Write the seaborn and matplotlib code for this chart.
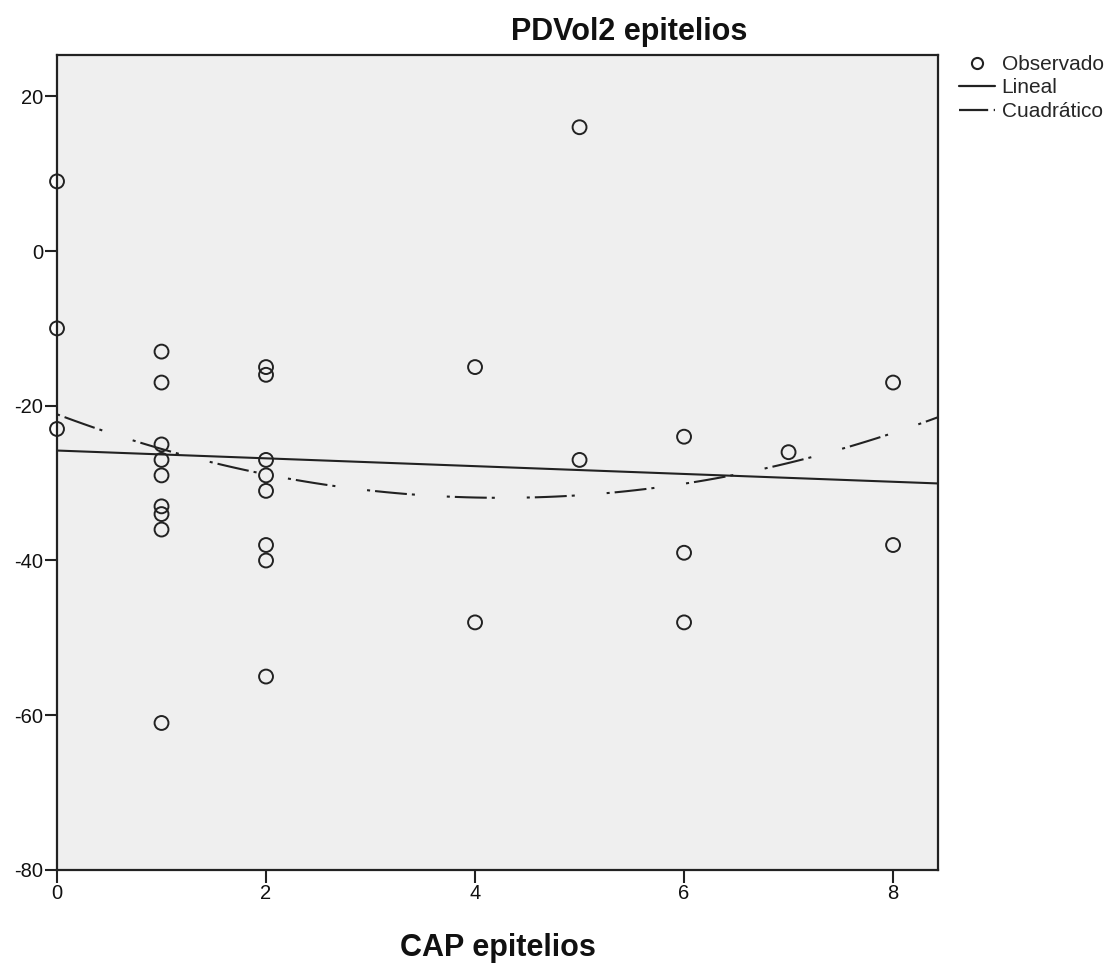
import matplotlib
matplotlib.use("Agg")
import matplotlib.pyplot as plt
from matplotlib.lines import Line2D
import seaborn as sns
import pandas as pd
import numpy as np

cap = [0, 0, 0,
       1, 1, 1, 1, 1, 1, 1, 1, 1,
       2, 2, 2, 2, 2, 2, 2, 2,
       4, 4,
       5, 5,
       6, 6, 6,
       7,
       8, 8]
pdvol = [9, -10, -23,
         -13, -17, -25, -27, -29, -33, -34, -36, -61,
         -15, -16, -27, -29, -31, -38, -40, -55,
         -15, -48,
         16, -27,
         -24, -39, -48,
         -26,
         -17, -38]
x_ticks = [0, 2, 4, 6, 8]
y_ticks = [20, 0, -20, -40, -60, -80]

df = pd.DataFrame({"CAP epitelios": cap, "PDVol2 epitelios": pdvol})

sns.set_style("white")
plt.rcParams['font.family'] = ['Liberation Sans', 'DejaVu Sans']
plt.rcParams['axes.unicode_minus'] = False
plt.rcParams['lines.scale_dashes'] = False

quad_style = (0, (2.2, 3.6, 23, 3.6, 2.2, 23))

fig = plt.figure(figsize=(11.18, 9.63), dpi=100)
ax = fig.add_axes([0.051, 0.0966, 0.788, 0.846])
ax.set_facecolor('#efefef')
ax.set_xlim(0, 8.43)
ax.set_ylim(-80, 25.3)

sns.scatterplot(data=df, x="CAP epitelios", y="PDVol2 epitelios", ax=ax,
                marker='o', s=100, facecolor='none', edgecolor='#222222',
                linewidth=1.4, zorder=3, clip_on=False)
sns.regplot(data=df, x="CAP epitelios", y="PDVol2 epitelios", ax=ax,
            scatter=False, ci=None, order=1, truncate=False,
            line_kws=dict(color='#222222', lw=1.5))
sns.regplot(data=df, x="CAP epitelios", y="PDVol2 epitelios", ax=ax,
            scatter=False, ci=None, order=2, truncate=False,
            line_kws=dict(color='#222222', lw=1.5, linestyle=quad_style))
ax.set_xlim(0, 8.43)
ax.set_ylim(-80, 25.3)

ax.set_xticks(x_ticks)
ax.set_yticks(y_ticks)
ax.tick_params(axis='both', direction='out', length=9, width=1.5, color='#222222',
               labelsize=14.5, pad=1, left=True, bottom=True, labelcolor='#111111')
for s in ax.spines.values():
    s.set_color('#222222')
    s.set_linewidth(1.6)

ax.set_ylabel('')
ax.set_xlabel('')
fig.text(0.4455, 0.007, 'CAP epitelios', fontsize=22, fontweight='bold',
         ha='center', va='baseline', color='#111111')
fig.text(0.5626, 0.9585, 'PDVol2 epitelios', fontsize=22, fontweight='bold',
         ha='center', va='baseline', color='#111111')

handles = [
    Line2D([], [], marker='o', linestyle='none', markerfacecolor='none',
           markeredgecolor='#222222', markersize=8, markeredgewidth=1.5),
    Line2D([], [], color='#222222', lw=1.6),
    Line2D([], [], color='#222222', lw=1.6, linestyle=(0, (21, 4, 1.5, 10))),
]
fig.legend(handles, ['Observado', 'Lineal', 'Cuadrático'],
           loc='upper left', bbox_to_anchor=(0.858, 0.943), frameon=False,
           fontsize=15, handlelength=1.7, handletextpad=0.33, labelspacing=0.22,
           borderaxespad=0, borderpad=0)

fig.savefig('out.png', dpi=100)
